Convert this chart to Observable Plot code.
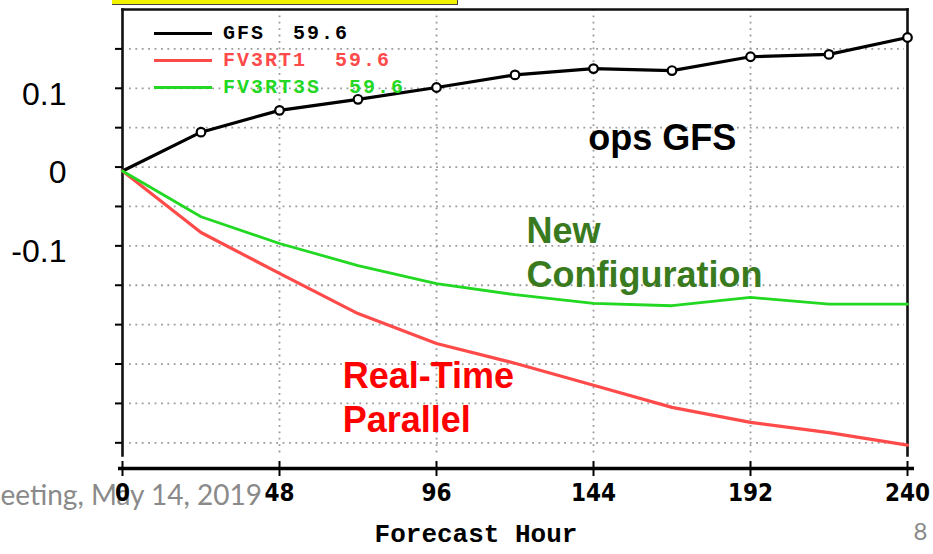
<!DOCTYPE html>
<html><head><meta charset="utf-8">
<script src="https://cdn.jsdelivr.net/npm/d3@7"></script>
<script src="https://cdn.jsdelivr.net/npm/@observablehq/plot@0.6"></script>
<style>
html,body{margin:0;padding:0;background:#fff;}
#wrap{position:relative;width:933px;height:554px;overflow:hidden;background:#fff;}
#wrap svg{position:absolute;left:0;top:0;display:block;}
#topbar{position:absolute;left:112px;top:0;width:345px;height:4px;background:#f2f200;border-bottom:1px solid #444;border-right:1px solid #444;}
#legend{position:absolute;left:154px;top:20px;font-family:"Liberation Mono","DejaVu Sans Mono",monospace;font-weight:bold;font-size:20px;letter-spacing:2px;}
#legend .row{position:absolute;left:0;height:27px;display:flex;align-items:center;white-space:pre;}
#legend .sw{width:58px;height:3px;margin-right:11px;}
</style></head>
<body>
<div id="wrap"><div id="topbar"></div></div>
<script>
// ---- data ----
const hours   = [0, 24, 48, 72, 96, 120, 144, 168, 192, 216, 240];
const gfs     = [-0.005, 0.0443, 0.072, 0.086, 0.101, 0.117, 0.125, 0.1225, 0.140, 0.143, 0.1645];
const fv3rt1  = [-0.005, -0.083, -0.135, -0.186, -0.224, -0.249, -0.277, -0.305, -0.324, -0.337, -0.353];
const fv3rt3s = [-0.005, -0.063, -0.097, -0.125, -0.148, -0.162, -0.173, -0.176, -0.1655, -0.174, -0.174];

const seriesNames  = ["GFS", "FV3RT1", "FV3RT3S"];
const seriesScores = ["59.6", "59.6", "59.6"];
const seriesColors = ["#000000", "#ff4a4a", "#22d822"];

const xTicks   = [0, 48, 96, 144, 192, 240];
const xGrid    = [48, 96, 144, 192];
const yGrid    = [0.15, 0.1, 0.05, 0, -0.05, -0.1, -0.15, -0.2, -0.25, -0.3, -0.35];
const yLabels  = [0.1, 0, -0.1];
const yDomain  = [-0.3826, 0.2];
const xLabel   = "Forecast Hour";

const annoText   = ["ops GFS", "New\nConfiguration", "Real-Time\nParallel"];
const annoHour   = [165, 123.5, 67.3];
const annoValue  = [0.060, -0.058, -0.242];
const annoColor  = ["#000000", "#3a7a1e", "#ff0000"];
const annoAnchor = ["middle", "start", "start"];

const footerText = "eeting, May 14, 2019";
const pageNumber = "8";

// ---- build ----
const seriesValues = [gfs, fv3rt1, fv3rt3s];
const rows = seriesNames.flatMap((s, k) => hours.map((h, i) => ({series: s, hour: h, value: seriesValues[k][i]})));
const bySeries = s => rows.filter(d => d.series === s);
const sansBold = "Liberation Sans, Arial, sans-serif";
const mono = "Liberation Mono, DejaVu Sans Mono, monospace";
const gridStyle = {stroke: "#9a9a9a", strokeOpacity: 1, strokeWidth: 1.8, strokeDasharray: "1.8,4.6"};

const marks = [
  Plot.ruleY(yGrid, {...gridStyle, insetLeft: 7, insetRight: 3}),
  Plot.ruleX(xGrid, {...gridStyle, insetBottom: 13}),
  Plot.frame({anchor: "top", stroke: "#111", strokeWidth: 2.6, strokeDasharray: "6,2", insetBottom: 13}),
  Plot.frame({anchor: "left", stroke: "#111", strokeWidth: 2.6, strokeDasharray: "6,2", insetBottom: 13}),
  Plot.frame({anchor: "right", stroke: "#111", strokeWidth: 2.6, strokeDasharray: "6,2", insetBottom: 13}),
  Plot.axisY(yGrid, {tickSize: 7, strokeWidth: 2, tickFormat: () => "", label: null}),
  Plot.axisY(yLabels, {tickSize: 0, tickPadding: 56, dy: 6, fontSize: 32, fontFamily: sansBold, fill: "#000", tickFormat: d => String(d), label: null}),
  Plot.ruleY([yDomain[0]], {stroke: "#000", strokeWidth: 3.5, insetLeft: -4, insetRight: -7}),
  Plot.axisX(xTicks, {tickSize: 15, dy: -7, strokeWidth: 2, tickFormat: () => "", label: null}),
  Plot.text([footerText], {frameAnchor: "bottom-left", textAnchor: "start", dx: -122, dy: 36, fontSize: 28, fontFamily: "Lato, Open Sans, sans-serif", fill: "#8a8a8a"}),
  Plot.axisX(xTicks, {tickSize: 0, tickPadding: 15, fontSize: 24, fontWeight: "bold", fontFamily: "Liberation Sans Narrow, DejaVu Sans Condensed, " + mono, fill: "#000", tickFormat: d => String(d), label: null}),
  Plot.text([xLabel], {frameAnchor: "bottom", dx: -39, dy: 73, fontSize: 26, fontWeight: "bold", fontFamily: mono, fill: "#000"}),
  Plot.text([pageNumber], {frameAnchor: "bottom-right", dx: 20, dy: 71, fontSize: 24, fontFamily: "Lato, Open Sans, sans-serif", fill: "#8a8a8a"}),
  Plot.line(bySeries("GFS"), {x: "hour", y: "value", stroke: seriesColors[0], strokeWidth: 3.2}),
  Plot.dot(bySeries("GFS").filter(d => d.hour > 0), {x: "hour", y: "value", r: 4.3, fill: "white", stroke: seriesColors[0], strokeWidth: 2.2}),
  Plot.line(bySeries("FV3RT1"), {x: "hour", y: "value", stroke: seriesColors[1], strokeWidth: 3.2}),
  Plot.line(bySeries("FV3RT3S"), {x: "hour", y: "value", stroke: seriesColors[2], strokeWidth: 2.8})
];
annoText.forEach((t, i) => {
  marks.push(Plot.text([t], {x: () => annoHour[i], y: () => annoValue[i], text: d => d, textAnchor: annoAnchor[i], lineAnchor: "top", lineHeight: 1.2, fontSize: 36, fontWeight: "bold", fontFamily: sansBold, fill: annoColor[i]}));
});

const chart = Plot.plot({
  width: 933, height: 554,
  marginTop: 9, marginBottom: 86, marginLeft: 122, marginRight: 26,
  x: {domain: [0, 240]},
  y: {domain: yDomain},
  style: {background: "white", overflow: "visible"},
  marks
});
const wrap = document.getElementById("wrap");
wrap.insertBefore(chart, wrap.firstChild);

// legend overlay
const legend = document.createElement("div");
legend.id = "legend";
seriesNames.forEach((s, i) => {
  const row = document.createElement("div");
  row.className = "row";
  row.style.top = (i * 27) + "px";
  const sw = document.createElement("span");
  sw.className = "sw";
  sw.style.background = seriesColors[i];
  const tx = document.createElement("span");
  tx.textContent = s + "  " + seriesScores[i];
  tx.style.color = seriesColors[i];
  row.appendChild(sw); row.appendChild(tx);
  legend.appendChild(row);
});
wrap.appendChild(legend);
</script>
</body></html>
